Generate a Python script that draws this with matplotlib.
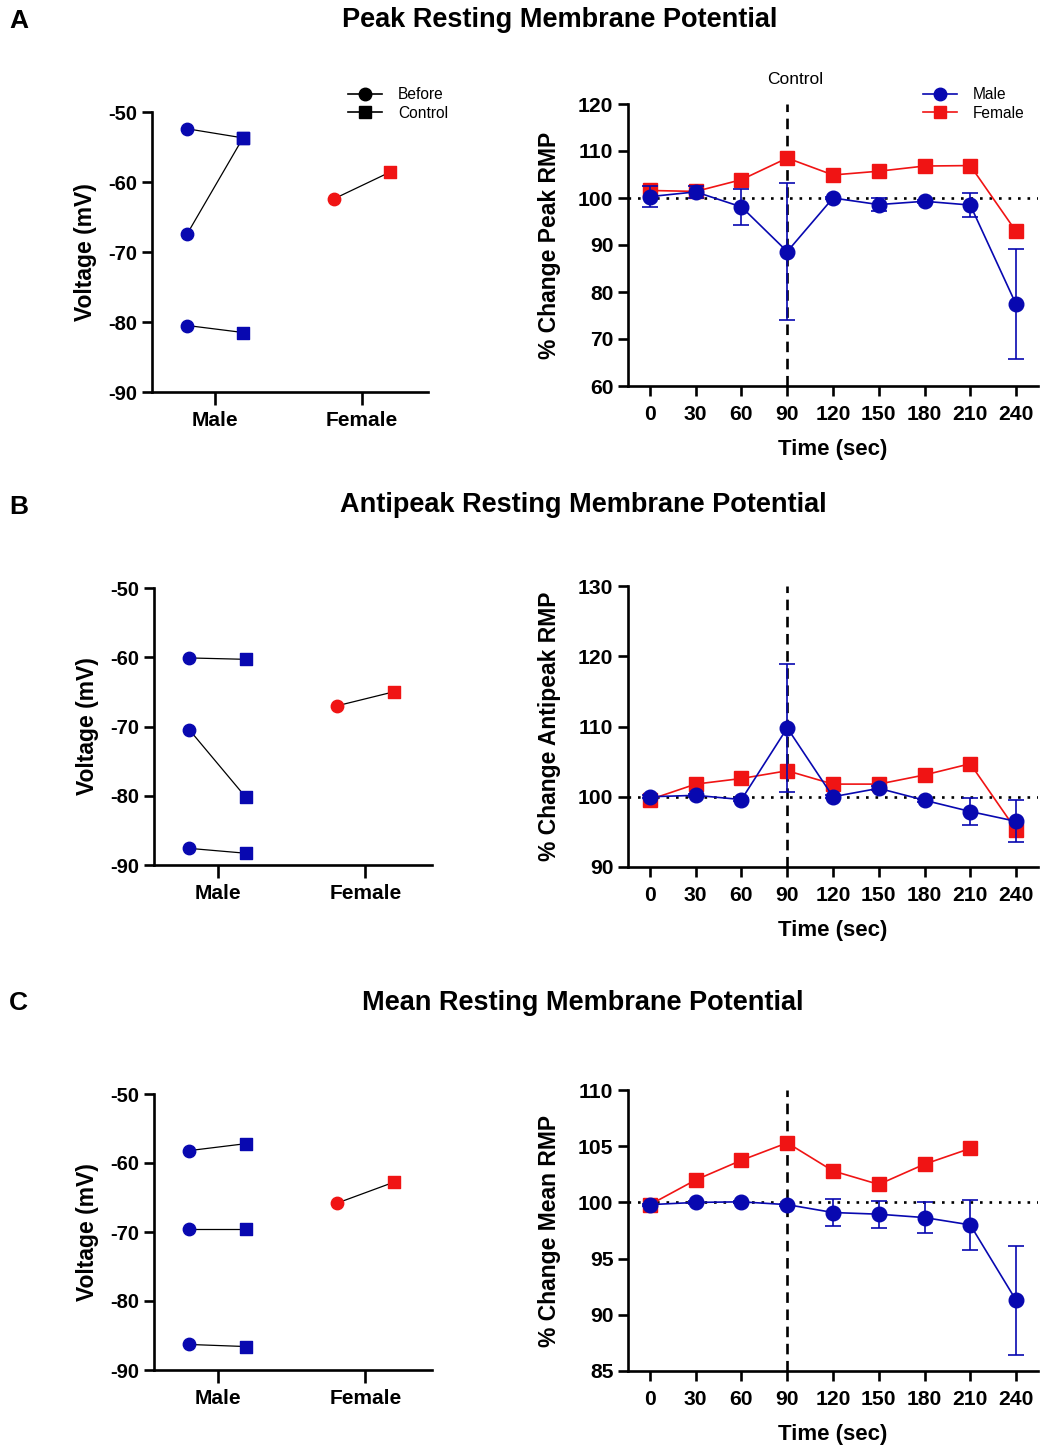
import numpy as np
import matplotlib
matplotlib.use("Agg")
import matplotlib.pyplot as plt
from matplotlib.lines import Line2D

plt.rcParams['font.family'] = ['Liberation Sans', 'DejaVu Sans']
plt.rcParams['axes.unicode_minus'] = False

BLUE = '#0808B0'
RED = '#F01414'

# ---- data ----
groups = ['Male', 'Female']
times = [0, 30, 60, 90, 120, 150, 180, 210, 240]

# paired voltages (mV): before / control
peak_male_before = [-52.4, -67.4, -80.5]
peak_male_control = [-53.7, -53.7, -81.5]
peak_female_before = [-62.4]
peak_female_control = [-58.6]

anti_male_before = [-60.1, -70.5, -87.6]
anti_male_control = [-60.3, -80.2, -88.3]
anti_female_before = [-67.0]
anti_female_control = [-65.0]

mean_male_before = [-58.2, -69.6, -86.3]
mean_male_control = [-57.2, -69.6, -86.6]
mean_female_before = [-65.8]
mean_female_control = [-62.8]

# % change over time
peak_male = [100.3, 101.3, 98.1, 88.6, 100.0, 98.6, 99.3, 98.5, 77.4]
peak_male_err = [2.3, 1.3, 3.8, 14.5, 0.3, 1.4, 0.3, 2.5, 11.7]
peak_female = [101.6, 101.4, 103.9, 108.5, 104.9, 105.7, 106.8, 106.9, 92.9]

anti_male = [100.0, 100.2, 99.6, 109.8, 100.0, 101.2, 99.5, 97.9, 96.5]
anti_male_err = [0.2, 0.2, 0.2, 9.1, 0.2, 0.3, 0.2, 1.9, 3.0]
anti_female = [99.6, 101.8, 102.6, 103.7, 101.8, 101.8, 103.1, 104.7, 95.3]

mean_male = [99.8, 100.0, 100.05, 99.8, 99.1, 98.95, 98.65, 98.0, 91.3]
mean_male_err = [0.1, 0.1, 0.1, 0.1, 1.2, 1.2, 1.35, 2.25, 4.85]
mean_female = [99.8, 102.0, 103.75, 105.3, 102.8, 101.6, 103.4, 104.8, np.nan]

W, H = 1058, 1448
fig = plt.figure(figsize=(W / 100, H / 100), dpi=100)


def box(l, t, r, b):
    return [l / W, 1 - b / H, (r - l) / W, (b - t) / H]


def style(ax, ylabel, ytick_vals, tsize, ylpad):
    for s in ['top', 'right']:
        ax.spines[s].set_visible(False)
    for s in ['left', 'bottom']:
        ax.spines[s].set_linewidth(1.9)
    ax.tick_params(width=1.9, length=7.5, labelsize=tsize)
    ax.tick_params(axis='y', pad=3)
    ax.tick_params(axis='x', pad=5)
    ax.set_yticks(ytick_vals)
    ax.set_ylabel(ylabel, fontsize=16.5, fontweight='bold', labelpad=ylpad)
    for lab in ax.get_xticklabels() + ax.get_yticklabels():
        lab.set_fontweight('bold')


def paired(rect, mb, mc, fb, fc):
    ax = fig.add_axes(box(*rect))
    off = 0.19
    for b, c in zip(mb, mc):
        ax.plot([0 - off, 0 + off], [b, c], color='black', lw=0.9, zorder=1)
    for b, c in zip(fb, fc):
        ax.plot([1 - off, 1 + off], [b, c], color='black', lw=0.9, zorder=1)
    ax.scatter([0 - off] * len(mb), mb, marker='o', s=80, color=BLUE, zorder=3)
    ax.scatter([0 + off] * len(mc), mc, marker='s', s=75, color=BLUE, zorder=3)
    ax.scatter([1 - off] * len(fb), fb, marker='o', s=80, color=RED, zorder=3)
    ax.scatter([1 + off] * len(fc), fc, marker='s', s=75, color=RED, zorder=3)
    ax.set_xlim(-0.43, 1.45)
    ax.set_ylim(-90, -50)
    ax.set_xticks([0, 1])
    ax.set_xticklabels(groups)
    style(ax, 'Voltage (mV)', np.arange(-90, -49, 10), 14.5, 8)
    ax.tick_params(axis='x', labelsize=15, length=9)
    return ax


def timecourse(rect, male, male_err, female, ylabel, ylim, step):
    ax = fig.add_axes(box(*rect))
    ax.axhline(100, color='black', ls=(0, (1, 2.6)), lw=1.9, zorder=1)
    ax.axvline(90, color='black', ls=(0, (4, 2.5)), lw=1.9, zorder=1)
    ax.plot(times, female, color=RED, lw=1.2, marker='s', ms=10, zorder=2)
    ax.errorbar(times, male, yerr=male_err, color=BLUE, lw=1.2, marker='o',
                ms=10.5, capsize=6, elinewidth=1.2, capthick=1.2, zorder=3)
    ax.set_xlim(-14.4, 254.4)
    ax.set_ylim(*ylim)
    ax.set_xticks(times)
    ax.set_xlabel('Time (sec)', fontsize=16, fontweight='bold', labelpad=11)
    style(ax, ylabel, np.arange(ylim[0], ylim[1] + 0.1, step), 15.2, 12)
    ax.tick_params(axis='x', pad=6)
    return ax


# ---- Panel A ----
paired((152, 112, 428, 392), peak_male_before, peak_male_control,
       peak_female_before, peak_female_control)
timecourse((628, 104, 1038, 386), peak_male, peak_male_err, peak_female,
           '% Change Peak RMP', (60, 120), 10)

# ---- Panel B ----
paired((154, 588, 432, 865), anti_male_before, anti_male_control,
       anti_female_before, anti_female_control)
timecourse((628, 586, 1038, 867), anti_male, anti_male_err, anti_female,
           '% Change Antipeak RMP', (90, 130), 10)

# ---- Panel C ----
paired((154, 1094, 432, 1370), mean_male_before, mean_male_control,
       mean_female_before, mean_female_control)
timecourse((628, 1090, 1038, 1371), mean_male, mean_male_err, mean_female,
           '% Change Mean RMP', (85, 110), 5)

# legends
h_before = Line2D([], [], color='black', lw=1.2, marker='o', ms=9)
h_control = Line2D([], [], color='black', lw=1.2, marker='s', ms=8)
fig.legend([h_before, h_control], ['Before', 'Control'], loc='upper left',
           bbox_to_anchor=(334 / W, 1 - 73 / H), frameon=False, fontsize=11.2,
           handlelength=2.2, labelspacing=0.25, handletextpad=1.0)
h_m = Line2D([], [], color=BLUE, lw=1.2, marker='o', ms=9)
h_f = Line2D([], [], color=RED, lw=1.2, marker='s', ms=8.5)
fig.legend([h_m, h_f], ['Male', 'Female'], loc='upper left',
           bbox_to_anchor=(909 / W, 1 - 73 / H), frameon=False, fontsize=11.2,
           handlelength=2.2, labelspacing=0.25, handletextpad=1.0)

fig.text(795 / W, 1 - 80 / H, 'Control', ha='center', va='center', fontsize=12.5)

# titles and panel letters
fig.text(9 / W, 1 - 21 / H, 'A', fontsize=19, fontweight='bold', va='center')
fig.text(560 / W, 1 - 20 / H, 'Peak Resting Membrane Potential', fontsize=19.5,
         fontweight='bold', ha='center', va='center')
fig.text(9 / W, 1 - 507 / H, 'B', fontsize=19, fontweight='bold', va='center')
fig.text(583 / W, 1 - 505 / H, 'Antipeak Resting Membrane Potential', fontsize=19.5,
         fontweight='bold', ha='center', va='center')
fig.text(9 / W, 1 - 1003 / H, 'C', fontsize=19, fontweight='bold', va='center')
fig.text(583 / W, 1 - 1003 / H, 'Mean Resting Membrane Potential', fontsize=19.5,
         fontweight='bold', ha='center', va='center')

fig.savefig('out.png', dpi=100)
